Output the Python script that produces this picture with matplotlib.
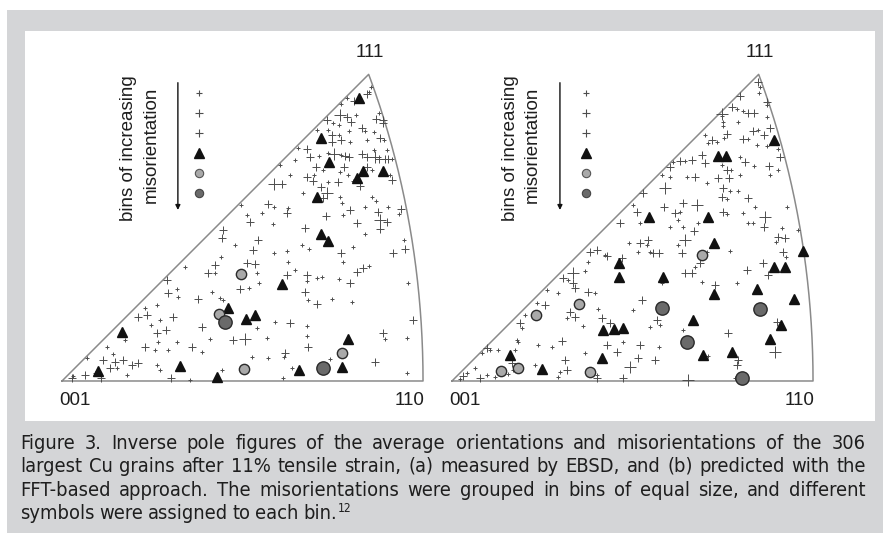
import matplotlib.pyplot as plt
from matplotlib.patches import Rectangle
import numpy as np

# positions in the equal-area inverse pole figure, scaled so that 001 -> (0, 0) and 110 -> (100, 0)

# (a) measured by EBSD
ebsd_small = [
    (85.6, 81.5), (85.1, 80.1), (77.2, 76.7), (78.9, 78.5), (87.8, 74.1), (81.5, 73.7), (75.2, 71.6),
    (76.8, 70.9), (79.6, 69.2), (83.8, 69.3), (86.3, 69.0), (73.8, 69.5), (70.6, 69.5), (76.6, 68.1),
    (79.8, 66.3), (84.4, 66.7), (89.3, 66.7), (71.3, 62.4), (73.7, 63.2), (77.3, 62.6), (86.3, 64.0),
    (91.5, 61.6), (89.9, 64.0), (85.8, 58.4), (77.0, 58.0), (72.4, 58.4), (69.9, 57.0), (73.8, 55.2),
    (79.1, 57.0), (80.7, 55.5), (90.9, 57.0), (65.5, 64.5), (64.6, 61.2), (60.4, 59.8), (63.2, 57.0),
    (66.7, 52.2), (77.0, 50.9), (77.5, 49.2), (85.8, 51.1), (86.9, 49.9), (83.8, 48.3), (90.4, 48.3),
    (93.4, 46.2), (77.7, 46.0), (83.9, 40.7), (94.7, 39.1), (49.5, 48.8), (58.6, 48.3), (62.7, 47.8),
    (55.3, 46.4), (51.2, 46.0), (58.4, 43.5), (47.9, 37.7), (58.6, 35.4), (62.4, 36.0), (66.4, 37.7),
    (68.5, 36.6), (80.7, 37.2), (44.1, 34.4), (42.4, 29.8), (34.1, 31.7), (53.9, 29.8), (51.9, 25.7),
    (54.6, 27.1), (31.8, 25.4), (32.2, 23.2), (41.5, 24.7), (43.8, 22.9), (44.7, 22.4), (26.2, 21.1),
    (23.0, 20.1), (27.1, 16.9), (24.6, 15.5), (41.0, 11.5), (53.9, 14.6), (56.7, 11.8), (59.0, 16.4),
    (17.5, 11.4), (12.4, 9.5), (25.7, 8.6), (26.7, 10.9), (29.5, 8.6), (31.8, 10.9), (38.7, 8.1),
    (6.8, 6.3), (14.2, 7.5), (26.2, 4.4), (27.1, 3.1), (17.9, 1.7), (15.1, 3.5), (9.1, 2.1), (3.1, 1.4),
    (35.4, 0.3), (44.2, 3.1), (52.5, 6.6), (57.1, 6.3), (77.9, 33.1), (62.7, 33.1), (64.5, 30.8),
    (67.8, 27.8), (70.6, 28.4), (71.9, 28.9), (76.6, 28.2), (85.1, 31.9), (68.2, 22.4), (74.7, 22.6),
    (80.2, 22.0), (95.9, 27.1), (67.8, 15.1), (67.8, 12.5), (61.5, 6.6), (63.6, 3.5), (74.2, 6.0),
    (89.5, 11.5), (95.5, 11.8), (95.5, 2.1), (61.3, 0.7),
]
ebsd_medium = [
    (84.4, 79.4), (80.8, 77.5), (86.9, 72.6), (88.8, 72.3), (89.0, 71.5), (78.9, 73.2), (80.0, 71.7),
    (73.3, 72.3), (83.0, 70.0), (74.7, 68.1), (77.3, 66.7), (88.1, 67.2), (74.7, 66.3), (68.0, 64.4),
    (68.7, 62.1), (78.3, 62.2), (79.6, 62.1), (83.0, 62.8), (84.4, 62.1), (87.9, 61.6), (89.5, 61.6),
    (90.4, 61.5), (84.4, 59.4), (78.0, 59.4), (70.3, 59.4), (67.8, 56.6), (69.6, 55.5), (71.8, 53.8),
    (76.4, 55.2), (82.6, 54.0), (91.3, 55.7), (60.9, 54.5), (72.4, 50.6), (79.8, 47.4), (87.6, 46.9),
    (93.9, 47.6), (89.9, 44.1), (88.1, 42.0), (73.0, 45.8), (81.6, 43.7), (95.0, 36.7), (57.0, 49.0),
    (62.2, 46.6), (52.1, 44.1), (44.7, 41.8), (44.3, 39.6), (54.4, 39.1), (52.8, 36.4), (67.3, 42.3),
    (77.2, 35.4), (91.8, 35.4), (42.4, 32.1), (40.5, 30.0), (51.2, 32.6), (53.5, 32.4), (49.3, 25.4),
    (29.0, 28.0), (29.5, 24.3), (37.8, 22.6), (21.1, 17.8), (23.6, 18.3), (30.8, 17.8), (28.8, 14.1),
    (26.2, 13.2), (38.7, 14.9), (47.4, 11.4), (23.0, 9.5), (35.9, 9.5), (11.4, 5.8), (14.7, 5.4),
    (16.9, 5.8), (19.3, 4.4), (21.1, 4.9), (13.3, 3.5), (6.3, 1.7), (2.7, 0.7), (10.9, 0.7), (30.3, 0.7),
    (62.2, 29.4), (67.8, 29.4), (81.6, 30.3), (83.5, 31.2), (79.8, 27.1), (67.3, 24.7), (70.6, 21.3),
    (97.3, 16.9), (63.2, 16.0), (68.2, 9.5), (61.8, 7.7), (89.0, 13.2), (86.7, 5.4),
]
ebsd_large = [(77.0, 73.7), (75.4, 63.0), (86.7, 62.1), (58.6, 54.7), (73.3, 52.0), (88.1, 44.6), (50.7, 11.5)]
ebsd_triangle = [
    (82.4, 78.5), (71.7, 67.4), (74.0, 60.7), (83.3, 58.3), (81.8, 56.3), (88.9, 58.2), (70.6, 50.9),
    (71.7, 40.6), (73.6, 38.8), (60.9, 26.9), (46.0, 20.1), (51.0, 17.2), (53.5, 18.3), (16.5, 13.7),
    (10.0, 2.9), (32.8, 4.2), (43.0, 1.1), (65.6, 3.0), (79.3, 11.6), (77.6, 3.8),
]
ebsd_light = [(49.5, 29.6), (43.4, 18.6), (50.5, 3.2), (77.5, 7.8)]
ebsd_dark = [(45.2, 16.3), (72.2, 3.7)]

# (b) predicted by the FFT-based approach
fft_small = [
    (85.3, 81.5), (84.9, 79.7), (87.2, 76.5), (78.9, 75.3), (80.7, 74.9), (87.2, 73.2), (74.7, 73.4),
    (75.2, 71.8), (79.3, 71.8), (75.2, 70.5), (84.7, 69.5), (82.1, 66.9), (84.4, 65.4), (87.2, 65.1),
    (90.4, 64.4), (75.4, 67.4), (70.1, 68.1), (73.3, 66.3), (64.6, 61.0), (61.3, 60.7), (74.7, 59.8),
    (77.3, 58.5), (79.8, 62.1), (83.7, 59.6), (90.4, 58.5), (88.1, 57.1), (60.4, 56.6), (58.2, 57.2),
    (65.0, 56.4), (70.7, 54.9), (79.8, 57.1), (77.0, 52.5), (76.1, 50.3), (79.3, 52.5), (83.9, 48.3),
    (76.1, 46.3), (80.7, 46.4), (83.5, 43.7), (82.1, 43.7), (92.7, 48.3), (50.2, 48.8), (52.1, 43.7),
    (63.2, 46.9), (62.7, 44.6), (68.2, 43.9), (64.1, 42.7), (60.4, 42.6), (62.7, 37.7), (53.9, 37.7),
    (48.9, 38.3), (54.9, 35.8), (51.6, 35.8), (70.6, 35.8), (77.0, 36.1), (91.3, 42.3), (89.8, 38.6),
    (95.9, 41.8), (70.8, 66.0), (42.4, 34.9), (37.8, 33.1), (32.2, 28.0), (36.8, 30.6), (39.6, 24.5),
    (29.5, 24.3), (26.2, 25.2), (23.5, 21.7), (50.2, 19.7), (40.5, 19.9), (36.4, 15.1), (31.8, 17.4),
    (20.2, 18.3), (19.3, 14.6), (54.8, 14.9), (57.6, 15.5), (8.2, 7.7), (10.5, 8.6), (12.8, 8.6),
    (17.5, 8.6), (18.4, 10.9), (23.9, 10.0), (27.6, 9.5), (29.9, 2.6), (29.5, 1.0), (36.8, 7.7),
    (47.5, 10.9), (57.2, 9.5), (17.0, 3.0), (15.6, 1.9), (11.9, 1.2), (9.6, 1.7), (6.4, 3.5), (4.1, 2.1),
    (2.2, 0.5), (23.0, 4.4), (40.1, 1.7), (17.9, 11.4), (67.3, 31.7), (58.1, 27.1), (69.2, 27.5),
    (78.9, 27.2), (92.5, 34.3), (64.1, 14.1), (78.4, 0.7), (71.0, 6.9),
]
fft_medium = [
    (84.7, 82.9), (79.8, 79.0), (87.2, 77.4), (77.5, 76.0), (82.1, 74.3), (83.7, 74.3), (83.5, 69.3),
    (86.3, 68.1), (88.1, 70.0), (80.7, 66.9), (90.9, 62.1), (76.1, 68.4), (71.9, 66.7), (69.2, 62.6),
    (66.4, 61.2), (63.2, 60.9), (60.5, 59.3), (70.1, 60.3), (76.1, 58.5), (81.2, 60.7), (87.9, 59.6),
    (67.3, 56.4), (73.8, 56.1), (76.6, 56.1), (75.2, 53.4), (74.7, 50.9), (82.1, 50.6), (75.2, 46.9),
    (86.3, 42.7), (52.8, 52.0), (51.2, 46.9), (46.5, 43.7), (58.6, 48.3), (64.1, 49.2), (61.8, 46.4),
    (66.9, 41.6), (54.4, 39.1), (52.1, 38.1), (57.2, 35.5), (55.8, 35.4), (47.0, 34.0), (42.9, 34.6),
    (38.2, 35.8), (40.1, 36.3), (63.6, 35.5), (90.4, 40.0), (92.3, 39.5), (91.8, 35.8), (30.8, 28.4),
    (33.6, 27.1), (34.1, 25.7), (37.8, 24.7), (25.8, 21.1), (52.5, 22.4), (41.5, 17.4), (43.8, 16.0),
    (32.7, 19.2), (34.1, 17.8), (18.8, 16.0), (56.7, 16.9), (9.6, 9.1), (30.4, 11.2), (31.3, 5.8),
    (31.8, 3.1), (42.9, 10.0), (45.6, 8.1), (52.1, 10.0), (51.6, 6.3), (56.2, 5.8), (16.5, 4.9),
    (7.8, 0.7), (3.1, 1.4), (40.1, 0.8), (47.5, 0.8), (68.7, 32.6), (64.5, 30.0), (66.4, 29.8),
    (72.9, 26.6), (81.6, 30.7), (86.2, 32.8), (87.6, 29.4), (76.5, 13.4), (89.9, 16.4), (79.3, 5.8),
    (78.9, 4.4),
]
fft_large = [
    (74.7, 74.0), (67.8, 48.8), (86.7, 45.5), (64.6, 39.0), (33.6, 29.8), (89.5, 7.9), (65.5, 0.3),
    (49.3, 4.0), (59.0, 53.4),
]
fft_triangle = [
    (89.3, 66.7), (73.8, 62.4), (75.9, 62.3), (54.6, 45.5), (71.0, 45.5), (72.7, 38.3), (97.1, 36.1),
    (46.3, 32.6), (46.3, 28.9), (58.5, 28.9), (89.3, 31.6), (92.2, 31.6), (72.7, 24.0), (84.4, 25.5),
    (94.8, 22.6), (66.8, 16.9), (91.0, 15.5), (88.1, 11.5), (41.7, 14.1), (44.8, 14.3), (47.3, 14.6),
    (41.5, 6.5), (69.6, 7.2), (77.6, 8.1), (16.2, 7.3), (24.9, 3.2),
]
fft_light = [(69.2, 34.9), (35.2, 21.2), (23.4, 18.4), (13.5, 2.8), (18.3, 3.7), (38.2, 2.4)]
fft_dark = [(58.3, 20.1), (85.3, 19.9), (65.0, 10.9), (80.4, 0.8)]

corner_labels = ["001", "110", "111"]
legend_title = ["bins of increasing", "misorientation"]
caption_lines = [
    "Figure 3. Inverse pole figures of the average orientations and misorientations of the 306",
    "largest Cu grains after 11% tensile strain, (a) measured by EBSD, and (b) predicted with the",
    "FFT-based approach. The misorientations were grouped in bins of equal size, and different",
    "symbols were assigned to each bin.",
]
caption_ref = "12"

W, H = 883, 533
GRAY = "#d4d5d7"
CROSS = "#4d4d4d"
TXT = "#1e1e1e"
FONT = ["Liberation Sans", "DejaVu Sans"]
CAP_FONT = ["DejaVu Sans"]

fig = plt.figure(figsize=(W / 100, H / 100), dpi=100)
fig.add_artist(Rectangle((7 / W, 0), 1, (H - 10) / H, transform=fig.transFigure,
                         facecolor=GRAY, edgecolor="none", zorder=0))
fig.add_artist(Rectangle((25 / W, (H - 421) / H), 850 / W, 390 / H, transform=fig.transFigure,
                         facecolor="white", edgecolor="none", zorder=0))

# boundary of the standard triangle, equal-area projection
t = np.linspace(0, 1, 200)
dz = 1 / np.sqrt(2 + t ** 2)
r = 2 * np.sin(np.arccos(dz) / 2) / (2 * np.sin(np.pi / 8))
phi = np.arctan(t)
arc_x, arc_y = 100 * r * np.cos(phi), 100 * r * np.sin(phi)
edge_x = np.concatenate([[0], arc_x, [0]])
edge_y = np.concatenate([[0], arc_y, [0]])


def xy(pts):
    a = np.array(pts, dtype=float)
    return a[:, 0], a[:, 1]


def panel(left_px, data, text_x, arrow_x, key_x):
    small, medium, large, tri, light, dark = data
    ax = fig.add_axes([left_px / W, (H - 415) / H, 400 / W, 375 / H])
    ax.set_xlim(-6.09, 104.7)
    ax.set_ylim(-9.42, 94.46)
    ax.axis("off")
    ax.plot(edge_x, edge_y, color="#8a8a8a", lw=1.1, zorder=1)

    ax.plot(*xy(small), "+", ms=3.2, mew=0.7, color=CROSS, ls="none", zorder=2)
    ax.plot(*xy(medium), "+", ms=5.8, mew=0.7, color=CROSS, ls="none", zorder=2)
    ax.plot(*xy(large), "+", ms=8.6, mew=0.7, color=CROSS, ls="none", zorder=2)
    ax.plot(*xy(tri), "^", ms=7.2, color="#111111", mec="#111111", ls="none", zorder=3)
    ax.plot(*xy(light), "o", ms=7.4, mfc="#a9a9a9", mec="#2a2a2a", mew=1, ls="none", zorder=4)
    ax.plot(*xy(dark), "o", ms=9.6, mfc="#6a6a6a", mec="#2a2a2a", mew=1, ls="none", zorder=4)

    # corner labels
    ax.text(3.6, -5.3, corner_labels[0], fontsize=13.5, family=FONT, color=TXT, ha="center", va="center")
    ax.text(96.2, -5.3, corner_labels[1], fontsize=13.5, family=FONT, color=TXT, ha="center", va="center")
    ax.text(85.3, 91.1, corner_labels[2], fontsize=13.5, family=FONT, color=TXT, ha="center", va="center")

    # legend
    ax.text(text_x[0], 64.5, legend_title[0], rotation=90, fontsize=13.5, family=FONT, color=TXT,
            ha="center", va="center")
    ax.text(text_x[1], 65.3, legend_title[1], rotation=90, fontsize=13.5, family=FONT, color=TXT,
            ha="center", va="center")
    ax.annotate("", xy=(arrow_x, 46.6), xytext=(arrow_x, 83.4),
                arrowprops=dict(arrowstyle="-|>", color="#111111", lw=1.0, mutation_scale=7))
    key_y = [79.8, 74.2, 68.7, 63.2, 57.6, 52.1]
    ax.plot(key_x, key_y[0], "+", ms=4.4, mew=0.8, color=CROSS)
    ax.plot(key_x, key_y[1], "+", ms=6.0, mew=0.8, color=CROSS)
    ax.plot(key_x, key_y[2], "+", ms=5.4, mew=0.8, color=CROSS)
    ax.plot(key_x, key_y[3], "^", ms=7.6, color="#111111")
    ax.plot(key_x, key_y[4], "o", ms=6.0, mfc="#a9a9a9", mec="#555555", mew=0.8)
    ax.plot(key_x, key_y[5], "o", ms=6.0, mfc="#6a6a6a", mec="#444444", mew=0.8)
    return ax


panel(40, (ebsd_small, ebsd_medium, ebsd_large, ebsd_triangle, ebsd_light, ebsd_dark),
      (18.3, 24.8), 32.1, 37.9)
panel(430, (fft_small, fft_medium, fft_large, fft_triangle, fft_light, fft_dark),
      (16.1, 22.2), 29.9, 37.1)

# caption: condensed face, sized so the longest line nearly fills the width, then justified
renderer = fig.canvas.get_renderer()
X0, X1 = 20, 866
probe = [fig.text(0, 0, s, fontsize=10, family=CAP_FONT, stretch="condensed") for s in caption_lines[:3]]
natural = max(p.get_window_extent(renderer).width for p in probe)
for p in probe:
    p.remove()
CAP_SIZE = min(16.0, 10 * (X1 - X0) * 0.985 / natural)

baselines = [449, 472, 496, 519]
for i, line in enumerate(caption_lines):
    words = line.split()
    arts = [fig.text(0, 1 - baselines[i] / H, w, fontsize=CAP_SIZE, family=CAP_FONT, stretch="condensed",
                     color=TXT, va="baseline") for w in words]
    widths = [a.get_window_extent(renderer).width for a in arts]
    last = i == len(caption_lines) - 1
    gap = CAP_SIZE * 0.32 if last else (X1 - X0 - sum(widths)) / (len(words) - 1)
    x = X0
    for a, w in zip(arts, widths):
        a.set_x(x / W)
        x += w + gap
    if last:
        fig.text((x - gap + 1) / W, 1 - (baselines[i] - 7) / H, caption_ref, fontsize=CAP_SIZE * 0.6,
                 family=CAP_FONT, stretch="condensed", color=TXT, va="baseline")

fig.savefig("out.png", dpi=100)
